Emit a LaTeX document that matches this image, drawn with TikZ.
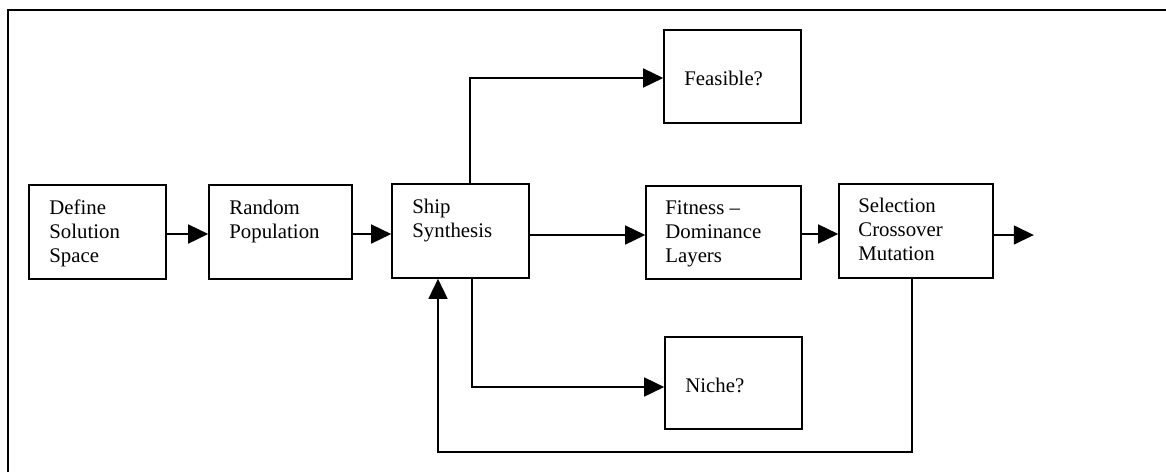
\documentclass[tikz,border=0pt]{standalone}
\usepackage{fontspec}
\setmainfont{Liberation Serif}
\usetikzlibrary{arrows.meta,calc}
\begin{document}
\begin{tikzpicture}[x=1pt,y=-1pt,
  box/.style={draw, line width=1.6pt, inner sep=0pt, rectangle},
  txt/.style={inner sep=0pt, anchor=base west, align=left,
              font=\fontsize{20.8pt}{24pt}\selectfont},
  link/.style={line width=1.5pt},
  arr/.style={link, -{Triangle[length=20pt,width=19pt]}}]
  \useasboundingbox (0,0) rectangle (1166,472);

  % frame (top and left edges)
  \draw[line width=2pt] (7.5,472) |- (1166,9.5);

  % process boxes
  \node[box, minimum width=137pt, minimum height=94pt] (define)    at (97.5,232) {};
  \node[box, minimum width=143pt, minimum height=94pt] (random)    at (280.5,232) {};
  \node[box, minimum width=137pt, minimum height=94pt] (ship)      at (460.5,231) {};
  \node[box, minimum width=155pt, minimum height=93pt] (fitness)   at (723.5,232.5) {};
  \node[box, minimum width=154pt, minimum height=94pt] (selection) at (916,231) {};
  \node[box, minimum width=137pt, minimum height=93pt] (feasible)  at (732.5,76.5) {};
  \node[box, minimum width=137pt, minimum height=92pt] (niche)     at (733.5,383) {};

  % box texts (anchored on the baseline of their last line)
  \node[txt] (defineT)    at ($(define.north west)+(21,78)$)    {Define\\Solution\\Space};
  \node[txt] (randomT)    at ($(random.north west)+(21,54)$)    {Random\\Population};
  \node[txt] (shipT)      at ($(ship.north west)+(21,54)$)      {Ship\\Synthesis};
  \node[txt] (fitnessT)   at ($(fitness.north west)+(20,77)$)   {Fitness –\\Dominance\\Layers};
  \node[txt] (selectionT) at ($(selection.north west)+(20,77)$) {Selection\\Crossover\\Mutation};
  \node[txt] (feasibleT)  at ($(feasible.north west)+(21,56)$)  {Feasible?};
  \node[txt] (nicheT)     at ($(niche.north west)+(21,56)$)     {Niche?};

  % main flow
  \draw[arr] ([yshift=-2]define.east)    -- ([yshift=-2]random.west);
  \draw[arr] ([yshift=-2]random.east)    -- ([yshift=-3]ship.west);
  \draw[arr] ([yshift=-4]ship.east)      -- ([yshift=-2.5]fitness.west);
  \draw[arr] ([yshift=-1.5]fitness.east) -- ([yshift=-3]selection.west);
  \coordinate (exit) at ($(selection.east)+(40,4)$);
  \draw[arr] ([yshift=-4]selection.east) -- (exit);

  % branches to the checks
  \draw[arr] ([xshift=9.5]ship.north)  |- ([yshift=-1.5]feasible.west);
  \draw[arr] ([xshift=11.5]ship.south) |- ([yshift=-4]niche.west);

  % feedback loop
  \coordinate (selOut) at ([xshift=-4]selection.south);
  \coordinate (shipIn) at ([xshift=-22.5]ship.south);
  \coordinate (loopY)  at (0,452);
  \draw[arr] (selOut) -- (selOut |- loopY) -| (shipIn);
\end{tikzpicture}
\end{document}
